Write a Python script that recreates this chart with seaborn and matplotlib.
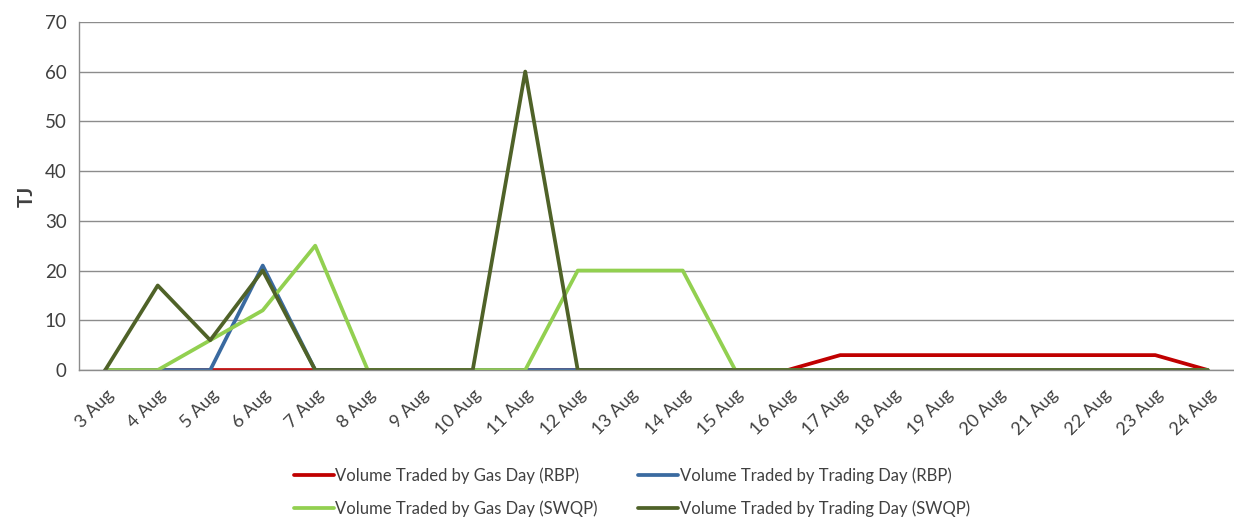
import numpy as np
import pandas as pd
import matplotlib
matplotlib.use('Agg')
import matplotlib.pyplot as plt
import seaborn as sns

dates = ['3 Aug', '4 Aug', '5 Aug', '6 Aug', '7 Aug', '8 Aug', '9 Aug', '10 Aug',
         '11 Aug', '12 Aug', '13 Aug', '14 Aug', '15 Aug', '16 Aug', '17 Aug',
         '18 Aug', '19 Aug', '20 Aug', '21 Aug', '22 Aug', '23 Aug', '24 Aug']

gas_day_rbp = [0, 0, 0, 0, 0, 0, 0, 0, 0, 0, 0, 0, 0, 0, 3, 3, 3, 3, 3, 3, 3, 0]
trading_day_rbp = [0, 0, 0, 21, 0, 0, 0, 0, 0, 0, 0, 0, 0, 0, 0, 0, 0, 0, 0, 0, 0, 0]
gas_day_swqp = [0, 0, 6, 12, 25, 0, 0, 0, 0, 20, 20, 20, 0, 0, 0, 0, 0, 0, 0, 0, 0, 0]
trading_day_swqp = [0, 17, 6, 20, 0, 0, 0, 0, 60, 0, 0, 0, 0, 0, 0, 0, 0, 0, 0, 0, 0, 0]

series = {
    'Volume Traded by Gas Day (RBP)': gas_day_rbp,
    'Volume Traded by Trading Day (RBP)': trading_day_rbp,
    'Volume Traded by Gas Day (SWQP)': gas_day_swqp,
    'Volume Traded by Trading Day (SWQP)': trading_day_swqp,
}
colors = ['#C00000', '#3A6AA0', '#92D050', '#4F6228']

rows = []
for name, vals in series.items():
    for i, v in enumerate(vals):
        rows.append({'pos': i, 'date': dates[i], 'series': name, 'TJ': v})
df = pd.DataFrame(rows)

sns.set_style('white')
plt.rcParams['font.family'] = ['Lato', 'DejaVu Sans']

fig = plt.figure(figsize=(12.34, 5.19), dpi=100)
ax = fig.add_axes([0.064, 0.287, 0.936, 0.671])

sns.lineplot(data=df, x='pos', y='TJ', hue='series', hue_order=list(series.keys()),
             palette=colors, linewidth=2.7, ax=ax, legend=True)

ax.set_ylim(0, 70)
ax.set_yticks(range(0, 71, 10))
ax.set_xlim(-0.5, 21.4)
ax.set_xticks(range(len(dates)))
ax.set_xticklabels(dates, rotation=45, ha='right', rotation_mode='anchor')
ax.set_xticks(np.arange(-0.5, len(dates), 1.0), minor=True)
ax.tick_params(axis='x', which='major', length=0, pad=12, labelsize=13, colors='#404040')
ax.tick_params(axis='x', which='minor', length=5, width=1, color='#8c8c8c', direction='out')
ax.tick_params(axis='y', length=5, width=1, color='#8c8c8c', labelsize=13.5, labelcolor='#404040', pad=4)

ax.yaxis.grid(True, color='#8c8c8c', linewidth=1)
ax.set_axisbelow(True)
for s in ['top', 'right']:
    ax.spines[s].set_visible(False)
for s in ['left', 'bottom']:
    ax.spines[s].set_color('#8c8c8c')
    ax.spines[s].set_linewidth(1)

ax.set_xlabel('')
ax.set_ylabel('TJ', fontsize=15, fontweight='bold', color='#404040', labelpad=6)

handles, labels = ax.get_legend_handles_labels()
ax.legend_.remove()
order = [0, 2, 1, 3]
fig.legend([handles[i] for i in order], [labels[i] for i in order], loc='center',
           bbox_to_anchor=(0.512, 0.052), ncol=2, frameon=False, fontsize=12,
           handlelength=2.4, handletextpad=0.1, columnspacing=2.4, labelspacing=1.0,
           labelcolor='#404040')

fig.savefig('out.png', dpi=100)
